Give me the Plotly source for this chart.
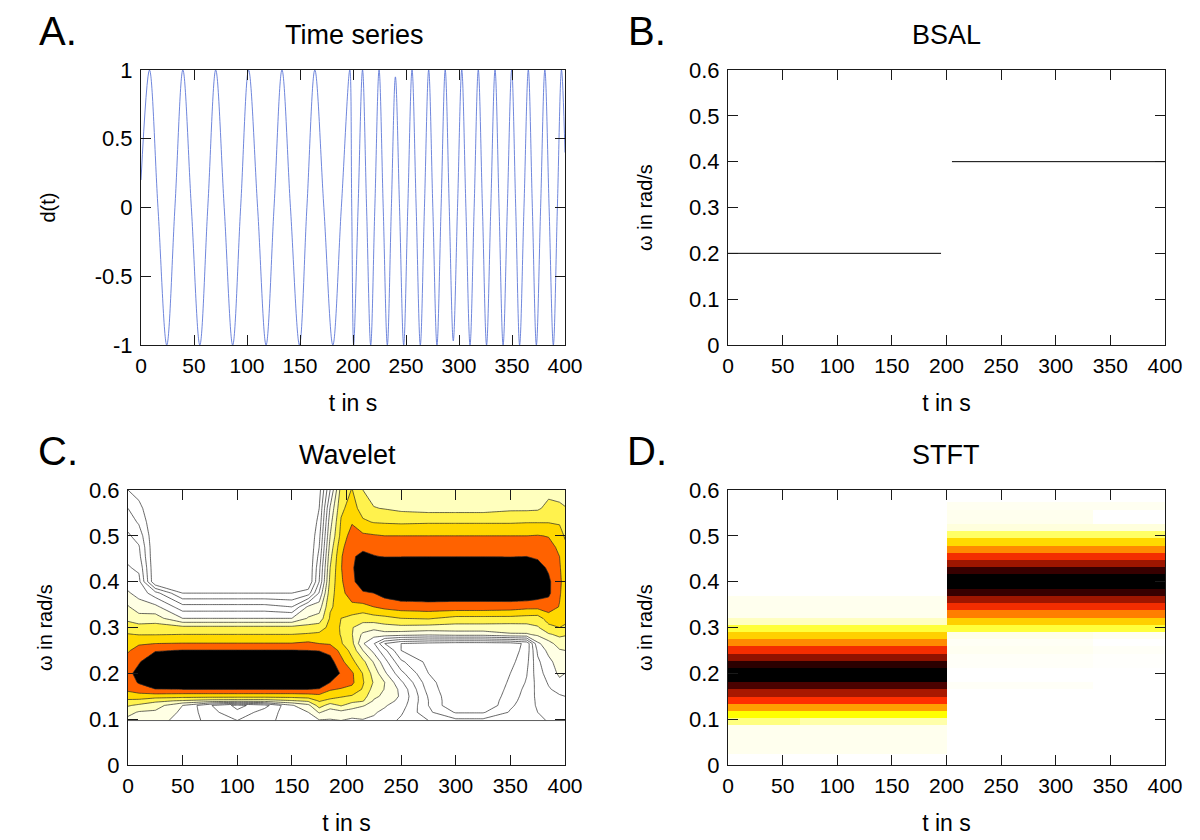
import plotly.graph_objects as go

FONT = "Liberation Sans"
INK = "#1a1a1a"

t_ticks = [0, 50, 100, 150, 200, 250, 300, 350, 400]
omega_ticks = [0, 0.1, 0.2, 0.3, 0.4, 0.5, 0.6]
omega_labels = ["0", "0.1", "0.2", "0.3", "0.4", "0.5", "0.6"]
d_ticks = [-1, -0.5, 0, 0.5, 1]
d_labels = ["-1", "-0.5", "0", "0.5", "1"]

# Panel A: extrema and zero crossings
series_t = [0, 8, 16, 24.3, 32, 39.5, 47.5, 55.5, 63, 70.5, 78.5, 86.5, 94, 101.5, 110, 118, 125.5, 133, 141, 149.5,
            156.5, 164, 172.5, 181, 189, 197, 198.8, 200.6, 204.8, 209, 212.8, 216.7, 220.6, 224.6, 228.5, 232.4,
            236.2, 240, 243.9, 247.8, 251.7, 255.7, 259.6, 263.5, 267.4, 271.4, 275.3, 279.2, 283.1, 287, 290.8,
            294.6, 298.6, 302.6, 306.5, 310.4, 314.3, 318.2, 322.1, 326, 330, 334, 337.8, 341.6, 345.6, 349.7,
            353.5, 357.2, 361.3, 365.4, 369.2, 373, 377, 381, 385, 389, 392.8, 396.7, 400]
series_d = [0.2, 1, 0, -1, 0, 1, 0, -1, 0, 1, 0, -1, 0, 1, 0, -1, 0, 1, 0, -1,
            0, 1, 0, -1, 0, 1, 0, -1, 0, 1, 0, -1, 0, 1, 0, -1,
            0, 0.95, 0, -1, 0, 1, 0, -1, 0, 1, 0, -1, 0, 1, 0,
            -0.97, 0, 1, 0, -1, 0, 1, 0, -1, 0, 1, 0, -1, 0, 1,
            0, -1, 0, 1, 0, -1, 0, 1, 0, -1, 0, 1, 0.4]

# Panel B
bsal_low_t = [0, 195]
bsal_low_w = [0.2, 0.2]
bsal_high_t = [205, 400]
bsal_high_w = [0.4, 0.4]

# Panel C: ridge height on a grid, one list per time column
wavelet_w = [0.097, 0.115, 0.13, 0.14, 0.15, 0.165, 0.18, 0.20, 0.225, 0.25, 0.265, 0.285, 0.30, 0.32, 0.345, 0.375,
             0.40, 0.43, 0.455, 0.475, 0.50, 0.53, 0.56, 0.60]
wavelet_t = [0, 10, 25, 50, 75, 100, 125, 150, 165, 175, 185, 195, 205, 215, 225, 235, 250, 275, 300, 325, 350, 365,
             375, 385, 395, 400]
col_000 = [5.7, 6.3, 7.1, 7.8, 8.5, 9.2, 9.5, 9.7, 9.4, 8.9, 8.5, 8.05, 7.5, 6.75, 6.1, 5.1, 4.6, 4.1, 3.75, 3.5, 3.15, 2.6, 2.0, 1.0]
col_010 = [5.1, 5.9, 6.8, 7.7, 8.6, 9.5, 10.1, 10.4, 9.9, 9.35, 8.9, 7.95, 7.35, 6.45, 5.4, 4.7, 4.3, 3.8, 3.3, 3.1, 2.6, 1.85, 1.3, 0.6]
col_025 = [5.4, 5.8, 6.5, 7.2, 8.5, 9.95, 10.9, 11.4, 10.9, 9.9, 9.0, 7.95, 7.45, 6.45, 5.3, 3.4, 0, 0, 0, 0, 0, 0, 0, 0]
col_050 = [4.6, 4.8, 5.0, 6.9, 8.4, 10, 11, 11.5, 11, 10.05, 9.05, 8.0, 7.3, 5.0, 3.4, 1.0, 0, 0, 0, 0, 0, 0, 0, 0]
col_075 = [3.7, 3.4, 3.1, 6.6, 8.4, 10, 11, 11.5, 11, 10.05, 9.05, 8.0, 7.3, 5.0, 3.4, 1.0, 0, 0, 0, 0, 0, 0, 0, 0]
col_100 = [3.0, 2.2, 1.7, 6.5, 8.4, 10, 11, 11.5, 11, 10.05, 9.05, 8.0, 7.3, 5.0, 3.4, 1.0, 0, 0, 0, 0, 0, 0, 0, 0]
col_125 = [3.8, 3.5, 2.6, 6.5, 8.4, 10, 11, 11.5, 11, 10.05, 9.05, 8.0, 7.3, 5.0, 3.4, 1.0, 0, 0, 0, 0, 0, 0, 0, 0]
col_150 = [4.3, 4.5, 4.9, 6.9, 8.4, 10, 11, 11.5, 11, 10.05, 9.05, 8.0, 7.3, 5.0, 3.0, 1.0, 0, 0, 0, 0, 0, 0, 0, 0]
col_165 = [4.7, 5.0, 5.7, 7.2, 8.5, 10, 11, 11.4, 11, 10, 9.2, 8.1, 7.4, 6.1, 5.2, 1.5, 0, 0, 0, 0, 0, 0, 0, 0]
col_175 = [4.9, 6.1, 7.5, 8.1, 8.7, 9.9, 11, 11.3, 11, 9.95, 9.0, 8.2, 7.5, 6.4, 5.5, 4.1, 3.0, 2.7, 2.3, 2.0, 1.7, 1.3, 1.0, 0.6]
col_185 = [4.9, 5.5, 6.5, 7.7, 8.4, 9.1, 10, 10.7, 10.4, 9.7, 8.9, 8.5, 8.3, 8.1, 7.9, 7.6, 7.3, 7.0, 6.7, 6.4, 6.0, 5.6, 5.1, 4.0]
col_195 = [5.0, 5.7, 7.1, 7.6, 8.1, 8.9, 9.6, 9.9, 9.3, 8.7, 8.1, 7.95, 7.95, 8.0, 8.3, 8.65, 8.85, 8.95, 8.9, 8.7, 8.3, 8.1, 7.8, 7.4]
col_205 = [4.8, 5.5, 6.5, 7.3, 7.9, 8.7, 9.2, 9.15, 8.25, 7.65, 7.3, 7.05, 7.05, 7.7, 8.7, 9.6, 9.8, 9.9, 9.9, 9.8, 9.5, 8.9, 8.4, 8.05]
col_215 = [4.95, 5.3, 6.1, 7.1, 7.5, 7.9, 8.1, 7.95, 7.3, 6.0, 5.1, 5.8, 6.6, 7.35, 8.7, 9.9, 10.5, 10.5, 10.2, 9.85, 9.2, 8.15, 7.6, 7.0]
col_225 = [4.85, 5.1, 5.6, 5.9, 6.2, 6.6, 6.9, 6.6, 5.9, 4.7, 4.1, 5.4, 6.3, 7.6, 9.0, 10, 11, 11, 10.05, 9.7, 9.1, 7.95, 7.05, 6.55]
col_235 = [4.5, 4.8, 5.1, 5.5, 5.8, 5.95, 6.0, 5.2, 4.4, 3.3, 2.0, 5.6, 6.6, 7.7, 9.3, 10.4, 11.2, 11, 9.95, 9.5, 9.0, 7.9, 6.95, 6.3]
col_250 = [3.8, 4.15, 4.5, 4.7, 4.85, 4.75, 4.2, 3.3, 2.2, 1.0, 1.0, 5.5, 6.7, 8.0, 9.5, 10.7, 11.5, 11.2, 9.95, 9.45, 9.0, 7.85, 6.75, 6.2]
col_275 = [3.0, 2.2, 2.0, 2.0, 1.9, 1.6, 1.4, 1.0, 0.7, 0.5, 0.7, 5.3, 6.6, 8.1, 9.6, 10.7, 11.5, 11.5, 9.95, 9.45, 9.0, 7.9, 6.6, 6.05]
col_300 = [2.3, 0.9, 0, 0, 0, 0, 0, 0, 0, 0, 0.5, 5.5, 6.55, 7.7, 9.6, 10.6, 11.5, 11.5, 9.95, 9.45, 9.0, 7.9, 6.6, 6.0]
col_325 = [2.3, 0.9, 0, 0, 0, 0, 0, 0, 0, 0, 0.5, 5.5, 6.55, 7.7, 9.6, 10.6, 11.5, 11.5, 9.95, 9.45, 9.0, 7.9, 6.6, 6.05]
col_350 = [2.5, 2.1, 1.85, 1.7, 1.5, 1.3, 1.15, 1.0, 0.7, 0.5, 0.6, 5.9, 6.5, 7.7, 9.5, 10.8, 11.5, 11, 9.95, 9.5, 9.0, 7.9, 6.8, 6.2]
col_365 = [2.7, 2.6, 2.45, 2.4, 2.4, 2.3, 2.1, 1.95, 1.7, 1.4, 1.2, 5.9, 6.6, 7.6, 9.3, 10.9, 11.4, 10.9, 10, 9.5, 9.0, 7.95, 6.8, 6.3]
col_375 = [2.85, 3.0, 3.15, 3.2, 3.25, 3.3, 3.4, 3.6, 3.8, 4.2, 4.8, 6.2, 6.9, 7.55, 9.3, 10.6, 11, 10.4, 9.85, 9.5, 9.05, 7.95, 6.85, 6.5]
col_385 = [3.05, 3.2, 3.4, 3.5, 3.7, 3.9, 4.1, 4.4, 4.7, 5.3, 5.6, 6.9, 7.7, 8.5, 9.5, 10.2, 10.2, 9.85, 9.6, 9.35, 8.95, 7.95, 7.3, 6.7]
col_395 = [3.2, 3.35, 3.55, 3.7, 3.9, 4.3, 4.75, 5.2, 5.5, 5.9, 6.5, 7.2, 8.0, 8.5, 8.95, 9.1, 9.15, 9.1, 9.0, 8.8, 8.4, 7.9, 7.1, 6.8]
col_400 = [3.3, 3.5, 3.7, 3.85, 4.0, 4.3, 4.6, 5.0, 5.5, 6.0, 6.5, 7.1, 7.9, 8.2, 8.4, 8.6, 8.7, 8.5, 8.4, 8.2, 7.9, 7.5, 7.05, 6.6]
wavelet_columns = [col_000, col_010, col_025, col_050, col_075, col_100, col_125, col_150, col_165, col_175, col_185,
                   col_195, col_205, col_215, col_225, col_235, col_250, col_275, col_300, col_325, col_350, col_365,
                   col_375, col_385, col_395, col_400]
wavelet_z = [list(row) for row in zip(*wavelet_columns)]
wavelet_floor_t = [0, 400]
wavelet_floor_w = [0.097, 0.097]

# Panel D: band centres and power for four time blocks
stft_t_edges = [0, 66, 200, 334, 400]
stft_w = [0.0, 0.0157, 0.0314, 0.0471, 0.0628, 0.0785, 0.0942, 0.1099, 0.1256, 0.1413, 0.157, 0.1727, 0.1884,
          0.2041, 0.2198, 0.2355, 0.2512, 0.2669, 0.2826, 0.2983, 0.314, 0.3297, 0.3454, 0.3611, 0.3768, 0.3925,
          0.4082, 0.4239, 0.4396, 0.4553, 0.471, 0.4867, 0.5024, 0.5181, 0.5338, 0.5495, 0.5652, 0.5809, 0.5966]
stft_a = [0, 0, .01, .01, .01, .01, .075, .15, .25, .35, .5, .68, 1, 1, .75, .55, .37, .27, .2, .115, .035, .01,
          .01, .01, 0, 0, 0, 0, 0, 0, 0, 0, 0, 0, 0, 0, 0, 0, 0]
stft_b = [0, 0, .01, .01, .01, .01, .05, .15, .25, .35, .5, .68, 1, 1, .75, .55, .37, .27, .2, .115, .035, .01,
          .01, .01, 0, 0, 0, 0, 0, 0, 0, 0, 0, 0, 0, 0, 0, 0, 0]
stft_c = [0, 0, 0, 0, 0, 0, 0, 0, 0, 0, 0, .005, 0, 0, .004, .004, .008, .006, .014, .115, .2, .28, .37, .52, .72, 1, 1,
          .72, .52, .37, .27, .19, .09, .02, .01, .01, .008, 0, 0]
stft_d = [0, 0, 0, 0, 0, 0, 0, 0, 0, 0, 0, 0, 0, 0, .002, .002, .005, 0, .009, .115, .2, .28, .37, .52, .72, 1, 1,
          .72, .52, .37, .27, .19, .09, .02, 0, 0, .008, 0, 0]
stft_z = [list(row) for row in zip(stft_a, stft_b, stft_c, stft_d)]

wavelet_bands = [[0, "#ffffff"], [5 / 11, "#ffffff"], [5 / 11, "#ffffe4"], [6 / 11, "#ffffe4"], [6 / 11, "#ffffbe"],
                 [7 / 11, "#ffffbe"], [7 / 11, "#fff24d"], [8 / 11, "#fff24d"], [8 / 11, "#ffd800"], [9 / 11, "#ffd800"],
                 [9 / 11, "#ff6200"], [10 / 11, "#ff6200"], [10 / 11, "#000000"], [1, "#000000"]]
stft_scale = [[0, "#ffffff"], [0.15, "#ffff00"], [0.25, "#ffa000"], [0.35, "#ff3000"], [0.5, "#a81800"],
              [0.7, "#400000"], [0.85, "#000000"], [1, "#000000"]]

fig = go.Figure()
fig.add_trace(go.Scatter(x=series_t, y=series_d, mode="lines", xaxis="x", yaxis="y", showlegend=False,
                         line=dict(color="#5f78d8", width=0.9, shape="spline", smoothing=1.0)))
fig.add_trace(go.Scatter(x=bsal_low_t, y=bsal_low_w, mode="lines", xaxis="x2", yaxis="y2", showlegend=False,
                         line=dict(color="#000000", width=1)))
fig.add_trace(go.Scatter(x=bsal_high_t, y=bsal_high_w, mode="lines", xaxis="x2", yaxis="y2", showlegend=False,
                         line=dict(color="#000000", width=1)))
fig.add_trace(go.Contour(x=wavelet_t, y=wavelet_w, z=wavelet_z, xaxis="x3", yaxis="y3", showscale=False,
                         zmin=0, zmax=11, colorscale=wavelet_bands, autocontour=False,
                         contours=dict(start=1, end=10, size=1, coloring="fill"),
                         line=dict(color="#262626", width=0.7, smoothing=0)))
fig.add_trace(go.Scatter(x=wavelet_floor_t, y=wavelet_floor_w, mode="lines", xaxis="x3", yaxis="y3", showlegend=False,
                         line=dict(color="#333333", width=0.8)))
fig.add_trace(go.Heatmap(x=stft_t_edges, y=stft_w, z=stft_z, xaxis="x4", yaxis="y4", showscale=False,
                         zmin=0, zmax=1, colorscale=stft_scale))


def x_axis(anchor, left, right):
    return dict(domain=[left / 1200, right / 1200], anchor=anchor, range=[0, 400], tickmode="array",
                tickvals=t_ticks, ticks="inside", ticklen=10, tickwidth=1, tickcolor=INK, mirror="allticks",
                showline=True, linecolor=INK, linewidth=1, showgrid=False, zeroline=False, automargin=False,
                ticklabelstandoff=2, tickfont=dict(family=FONT, size=21, color="#000000"),
                title=dict(text="t in s", font=dict(family=FONT, size=23, color="#000000"), standoff=18))


def y_axis(anchor, top, bottom, vals, labels, rng, label, standoff):
    return dict(domain=[(840 - bottom) / 840, (840 - top) / 840], anchor=anchor, range=rng, tickmode="array",
                tickvals=vals, ticktext=labels, ticks="inside", ticklen=10, tickwidth=1, tickcolor=INK,
                mirror="allticks", showline=True, linecolor=INK, linewidth=1, showgrid=False, zeroline=False,
                automargin=False, ticklabelstandoff=3, tickfont=dict(family=FONT, size=22, color="#000000"),
                title=dict(text=label, font=dict(family=FONT, size=20, color="#000000"), standoff=standoff))


def note(text, x, y, size):
    return dict(text=text, x=x / 1200, y=1 - y / 840, xref="paper", yref="paper", showarrow=False,
                xanchor="center", yanchor="middle", font=dict(family=FONT, size=size, color="#000000"))


fig.update_layout(
    width=1200, height=840, margin=dict(l=0, r=0, t=0, b=0), paper_bgcolor="white", plot_bgcolor="white",
    xaxis=x_axis("y", 141, 565),
    yaxis=y_axis("x", 70, 345, d_ticks, d_labels, [-1, 1], "d(t)", 33),
    xaxis2=x_axis("y2", 728, 1165),
    yaxis2=y_axis("x2", 70, 345, omega_ticks, omega_labels, [0, 0.6], "ω in rad/s", 31),
    xaxis3=x_axis("y3", 128, 565),
    yaxis3=y_axis("x3", 490, 765, omega_ticks, omega_labels, [0, 0.6], "ω in rad/s", 31),
    xaxis4=x_axis("y4", 728, 1165),
    yaxis4=y_axis("x4", 490, 765, omega_ticks, omega_labels, [0, 0.6], "ω in rad/s", 31),
    annotations=[
        note("Time series", 354, 35, 27), note("BSAL", 946, 35, 27),
        note("Wavelet", 347, 455, 27), note("STFT", 946, 455, 27),
        note("A.", 58, 31, 40), note("B.", 647, 31, 40),
        note("C.", 58, 451, 40), note("D.", 647, 451, 40),
    ],
)

fig.write_html("out.html", config=dict(displayModeBar=False),
               post_script="document.body.style.margin='0';document.documentElement.style.overflow='hidden';")
